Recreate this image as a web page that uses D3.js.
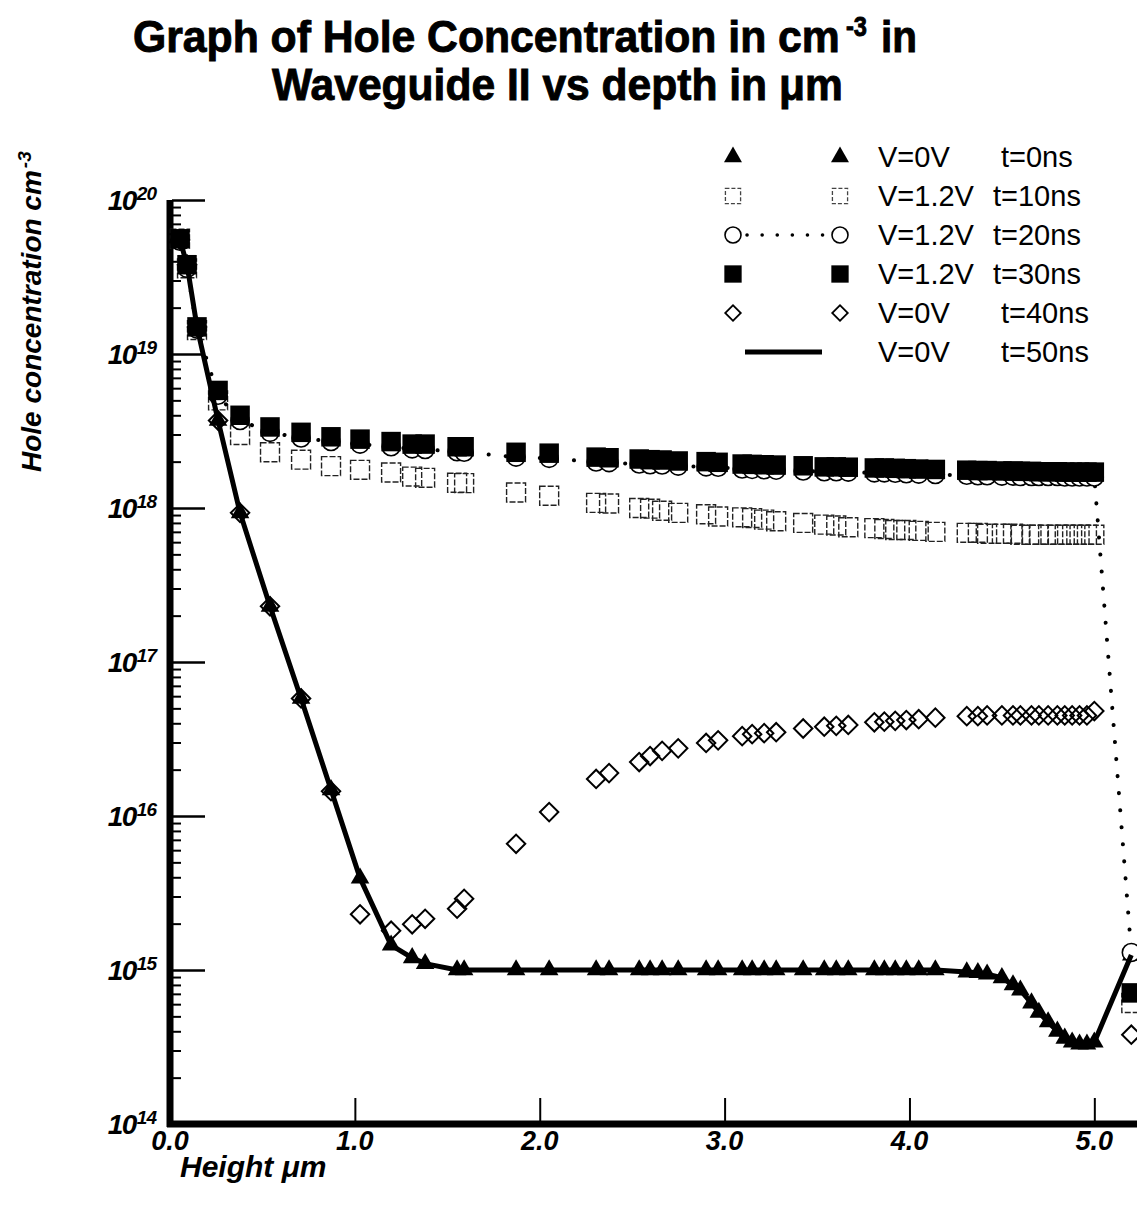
<!DOCTYPE html>
<html>
<head>
<meta charset="utf-8">
<script src="https://cdn.jsdelivr.net/npm/d3@7"></script>
<style>
  html, body { margin: 0; padding: 0; background: #fff; }
  svg { display: block; }
  text { font-family: "Liberation Sans", Arial, Helvetica, sans-serif; fill: #000; }
</style>
</head>
<body>
<svg id="chart" width="1137" height="1208"></svg>
<script>
// Mesh depths (µm) shared by all simulated profiles
const depth = [0.054, 0.092, 0.146, 0.26, 0.379, 0.541, 0.709, 0.871, 1.028, 1.196,
  1.31, 1.38, 1.553, 1.591, 1.872, 2.051, 2.305, 2.375, 2.538, 2.597,
  2.662, 2.749, 2.9, 2.965, 3.095, 3.149, 3.214, 3.279, 3.425, 3.539,
  3.604, 3.669, 3.81, 3.864, 3.923, 3.983, 4.05, 4.14, 4.31, 4.37,
  4.42, 4.5, 4.56, 4.6, 4.66, 4.7, 4.75, 4.8, 4.84, 4.88,
  4.92, 4.96, 5.0, 5.2];

// Hole concentration (cm^-3) at each mesh depth
const holesT0 = [5.5e19, 3.8e19, 1.5e19, 3.7e18, 9.3e17, 2.3e17, 5.8e16, 1.48e16, 3.95e15, 1.45e15,
  1.2e15, 1.1e15, 1.0e15, 1.0e15, 1.0e15, 1.0e15, 1.0e15, 1.0e15, 1.0e15, 1.0e15,
  1.0e15, 1.0e15, 1.0e15, 1.0e15, 1.0e15, 1.0e15, 1.0e15, 1.0e15, 1.0e15, 1.0e15,
  1.0e15, 1.0e15, 1.0e15, 1.0e15, 1.0e15, 1.0e15, 1.0e15, 1.0e15, 9.7e14, 9.6e14,
  9.4e14, 8.9e14, 8.0e14, 7.4e14, 6.1e14, 5.3e14, 4.6e14, 4.0e14, 3.6e14, 3.4e14,
  3.3e14, 3.3e14, 3.4e14, 1.25e15];

const holesT10 = [5.6e19, 3.6e19, 1.43e19, 5.0e18, 2.98e18, 2.3e18, 2.06e18, 1.87e18, 1.77e18, 1.7e18,
  1.6e18, 1.57e18, 1.46e18, 1.45e18, 1.26e18, 1.2e18, 1.08e18, 1.07e18, 1.0e18, 9.9e17,
  9.6e17, 9.3e17, 9.1e17, 8.8e17, 8.7e17, 8.6e17, 8.4e17, 8.2e17, 8.0e17, 7.8e17,
  7.7e17, 7.5e17, 7.4e17, 7.3e17, 7.2e17, 7.2e17, 7.1e17, 7.0e17, 6.9e17, 6.9e17,
  6.8e17, 6.8e17, 6.8e17, 6.7e17, 6.7e17, 6.7e17, 6.7e17, 6.7e17, 6.7e17, 6.7e17,
  6.7e17, 6.7e17, 6.7e17, 6.1e14];

const holesT20 = [5.4e19, 3.6e19, 1.45e19, 5.4e18, 3.7e18, 3.1e18, 2.85e18, 2.7e18, 2.6e18, 2.5e18,
  2.42e18, 2.4e18, 2.32e18, 2.3e18, 2.14e18, 2.1e18, 1.99e18, 1.97e18, 1.93e18, 1.91e18,
  1.9e18, 1.87e18, 1.85e18, 1.84e18, 1.79e18, 1.78e18, 1.77e18, 1.76e18, 1.74e18, 1.72e18,
  1.72e18, 1.71e18, 1.69e18, 1.69e18, 1.68e18, 1.67e18, 1.66e18, 1.65e18, 1.63e18, 1.62e18,
  1.62e18, 1.61e18, 1.61e18, 1.6e18, 1.6e18, 1.6e18, 1.6e18, 1.6e18, 1.59e18, 1.59e18,
  1.59e18, 1.59e18, 1.59e18, 1.3e15];

const holesT30 = [5.6e19, 3.8e19, 1.5e19, 5.8e18, 4.0e18, 3.36e18, 3.1e18, 2.9e18, 2.8e18, 2.7e18,
  2.6e18, 2.6e18, 2.5e18, 2.5e18, 2.3e18, 2.27e18, 2.14e18, 2.12e18, 2.08e18, 2.06e18,
  2.05e18, 2.02e18, 2.0e18, 1.98e18, 1.93e18, 1.92e18, 1.91e18, 1.9e18, 1.88e18, 1.85e18,
  1.85e18, 1.84e18, 1.82e18, 1.82e18, 1.81e18, 1.8e18, 1.79e18, 1.78e18, 1.76e18, 1.75e18,
  1.75e18, 1.74e18, 1.74e18, 1.73e18, 1.73e18, 1.72e18, 1.72e18, 1.72e18, 1.71e18, 1.71e18,
  1.71e18, 1.71e18, 1.71e18, 7.1e14];

const holesT40 = [5.5e19, 3.8e19, 1.5e19, 3.7e18, 9.3e17, 2.3e17, 5.8e16, 1.45e16, 2.3e15, 1.8e15,
  1.98e15, 2.15e15, 2.5e15, 2.9e15, 6.6e15, 1.06e16, 1.74e16, 1.9e16, 2.24e16, 2.45e16,
  2.65e16, 2.75e16, 2.98e16, 3.1e16, 3.3e16, 3.4e16, 3.45e16, 3.5e16, 3.7e16, 3.8e16,
  3.85e16, 3.9e16, 4.06e16, 4.1e16, 4.15e16, 4.2e16, 4.25e16, 4.35e16, 4.45e16, 4.45e16,
  4.5e16, 4.5e16, 4.5e16, 4.5e16, 4.5e16, 4.5e16, 4.5e16, 4.5e16, 4.5e16, 4.5e16,
  4.5e16, 4.5e16, 4.8e16, 3.8e14];

const holesT50 = [5.5e19, 3.8e19, 1.5e19, 3.7e18, 9.3e17, 2.3e17, 5.8e16, 1.48e16, 3.95e15, 1.45e15,
  1.2e15, 1.1e15, 1.0e15, 1.0e15, 1.0e15, 1.0e15, 1.0e15, 1.0e15, 1.0e15, 1.0e15,
  1.0e15, 1.0e15, 1.0e15, 1.0e15, 1.0e15, 1.0e15, 1.0e15, 1.0e15, 1.0e15, 1.0e15,
  1.0e15, 1.0e15, 1.0e15, 1.0e15, 1.0e15, 1.0e15, 1.0e15, 1.0e15, 9.7e14, 9.6e14,
  9.4e14, 8.9e14, 8.0e14, 7.4e14, 6.1e14, 5.3e14, 4.6e14, 4.0e14, 3.6e14, 3.4e14,
  3.3e14, 3.3e14, 3.4e14, 1.25e15];

// Legend entries and axis tick labels
const legendVoltage = ["V=0V", "V=1.2V", "V=1.2V", "V=1.2V", "V=0V", "V=0V"];
const legendTime = ["t=0ns", "t=10ns", "t=20ns", "t=30ns", "t=40ns", "t=50ns"];
const xTickValues = [0, 1, 2, 3, 4, 5];
const xTickLabels = ["0.0", "1.0", "2.0", "3.0", "4.0", "5.0"];
const yExponents = [14, 15, 16, 17, 18, 19, 20];

const svg = d3.select("#chart");

const x = d3.scaleLinear().domain([0, 5.22]).range([170, 1135]);
const y = d3.scaleLog().domain([1e14, 1e20]).range([1124, 200]);

// ---- Title: condensed bold pieces, squeezed horizontally to a target width ----
const title = svg.append("g").attr("font-weight", "bold")
  .attr("stroke", "#000").attr("stroke-width", 0.9);
function condensed(str, left, baseline, size, width) {
  const t = title.append("text").attr("font-size", size).text(str);
  const natural = t.node().getComputedTextLength();
  t.attr("transform", `translate(${left},${baseline}) scale(${width / natural},1)`);
  return t;
}
condensed("Graph of Hole Concentration in cm", 133, 52, 44, 707);
condensed("-3", 846, 36, 27, 21);
condensed("in", 881, 52, 44, 36);
condensed("Waveguide II vs depth in \u03bcm", 272, 100, 44, 571);

// ---- Axes ----
const axesG = svg.append("g");

// minor ticks on log axis
const minorVals = [];
for (let e = 14; e < 20; e++) for (let m = 2; m <= 9; m++) minorVals.push(m * Math.pow(10, e));
axesG.append("g").attr("transform", "translate(172,0)")
  .call(d3.axisLeft(y).tickValues(minorVals).tickSize(-9).tickFormat(""))
  .call(g => g.select(".domain").remove())
  .call(g => g.selectAll("line").attr("stroke", "#000").attr("stroke-width", 2));
// major ticks on log axis
axesG.append("g").attr("transform", "translate(172,0)")
  .call(d3.axisLeft(y).tickValues(yExponents.map(e => Math.pow(10, e))).tickSize(-33).tickFormat(""))
  .call(g => g.select(".domain").remove())
  .call(g => g.selectAll("line").attr("stroke", "#000").attr("stroke-width", 2.5));
// x ticks
axesG.append("g").attr("transform", "translate(0,1124)")
  .call(d3.axisBottom(x).tickValues(xTickValues.slice(1)).tickSize(-26).tickFormat(""))
  .call(g => g.select(".domain").remove())
  .call(g => g.selectAll("line").attr("stroke", "#000").attr("stroke-width", 2));
// heavy axis lines
axesG.append("line").attr("x1", x(0)).attr("x2", x(0)).attr("y1", y(1e20)).attr("y2", 1127)
  .attr("stroke", "#000").attr("stroke-width", 7);
axesG.append("line").attr("x1", x(0) - 3).attr("x2", 1137).attr("y1", 1124).attr("y2", 1124)
  .attr("stroke", "#000").attr("stroke-width", 7);

// y tick labels 10^n
const yl = axesG.append("g").attr("font-weight", "bold").attr("font-style", "italic");
yExponents.forEach(e => {
  const t = yl.append("text").attr("x", 156).attr("y", y(Math.pow(10, e)) + 10)
    .attr("text-anchor", "end").attr("font-size", 28);
  t.append("tspan").attr("letter-spacing", -1.5).text("10");
  t.append("tspan").attr("dy", -10).attr("dx", 1).attr("font-size", 19).attr("letter-spacing", -1).text(String(e));
});

// x tick labels
const xl = axesG.append("g").attr("font-weight", "bold").attr("font-style", "italic");
xTickValues.forEach((v, i) => {
  xl.append("text").attr("x", x(v)).attr("y", 1150).attr("text-anchor", "middle")
    .attr("font-size", 27).text(xTickLabels[i]);
});

// axis titles
xl.append("text").attr("x", 180).attr("y", 1177).attr("font-size", 30).text("Height \u03bcm");
const ylab = svg.append("text").attr("font-weight", "bold").attr("font-style", "italic")
  .attr("font-size", 28).attr("transform", "translate(41,472) rotate(-90)");
ylab.append("tspan").text("Hole concentration  cm");
ylab.append("tspan").attr("dx", 2).attr("dy", -10).attr("font-size", 19).text("-3");

// ---- Data ----
const plot = svg.append("g");
const pts = arr => depth.map((d, i) => ({ d, v: arr[i] }));

const sym = (type, size) => d3.symbol().type(type).size(size)();

// t=0ns triangles
plot.append("g").selectAll("path").data(pts(holesT0)).join("path")
  .attr("d", sym(d3.symbolTriangle, 150))
  .attr("transform", p => `translate(${x(p.d)},${y(p.v)})`)
  .attr("fill", "#000");

// t=10ns open dashed squares
plot.append("g").selectAll("path").data(pts(holesT10)).join("path")
  .attr("d", sym(d3.symbolSquare, 360))
  .attr("transform", p => `translate(${x(p.d)},${y(p.v)})`)
  .attr("fill", "none").attr("stroke", "#222").attr("stroke-width", 1.4)
  .attr("stroke-dasharray", "6 2");

// t=20ns circles joined by a dotted line
plot.append("path").datum(pts(holesT20))
  .attr("d", d3.line().x(p => x(p.d)).y(p => y(p.v)))
  .attr("fill", "none").attr("stroke", "#000").attr("stroke-width", 4)
  .attr("stroke-linecap", "round").attr("stroke-dasharray", "0.1 17");
plot.append("g").selectAll("circle").data(pts(holesT20)).join("circle")
  .attr("cx", p => x(p.d)).attr("cy", p => y(p.v)).attr("r", 9)
  .attr("fill", "#fff").attr("stroke", "#000").attr("stroke-width", 1.6);

// t=30ns filled squares
plot.append("g").selectAll("path").data(pts(holesT30)).join("path")
  .attr("d", sym(d3.symbolSquare, 380))
  .attr("transform", p => `translate(${x(p.d)},${y(p.v)})`)
  .attr("fill", "#000");

// t=40ns open diamonds
plot.append("g").selectAll("path").data(pts(holesT40)).join("path")
  .attr("d", sym(d3.symbolSquare, 170))
  .attr("transform", p => `translate(${x(p.d)},${y(p.v)}) rotate(45)`)
  .attr("fill", "none").attr("stroke", "#000").attr("stroke-width", 2);

// t=50ns solid line
plot.append("path").datum(pts(holesT50))
  .attr("d", d3.line().x(p => x(p.d)).y(p => y(p.v)))
  .attr("fill", "none").attr("stroke", "#000").attr("stroke-width", 5)
  .attr("stroke-linejoin", "round");

// ---- Legend ----
const leg = svg.append("g");
const rowY = i => 157 + i * 39;
const lx1 = 733, lx2 = 840;
const legendMarker = (i, xx) => {
  const tr = `translate(${xx},${rowY(i)})`;
  if (i === 0) leg.append("path").attr("d", sym(d3.symbolTriangle, 140)).attr("transform", tr).attr("fill", "#000");
  if (i === 1) leg.append("path").attr("d", sym(d3.symbolSquare, 230)).attr("transform", tr)
    .attr("fill", "none").attr("stroke", "#444").attr("stroke-width", 1.3).attr("stroke-dasharray", "4 2");
  if (i === 2) leg.append("circle").attr("cx", xx).attr("cy", rowY(i)).attr("r", 8)
    .attr("fill", "#fff").attr("stroke", "#000").attr("stroke-width", 1.6);
  if (i === 3) leg.append("path").attr("d", sym(d3.symbolSquare, 300)).attr("transform", tr).attr("fill", "#000");
  if (i === 4) leg.append("path").attr("d", sym(d3.symbolSquare, 120)).attr("transform", tr + " rotate(45)")
    .attr("fill", "none").attr("stroke", "#000").attr("stroke-width", 1.8);
};
legendVoltage.forEach((v, i) => {
  if (i === 2) leg.append("line").attr("x1", lx1 + 14).attr("x2", lx2 - 10)
    .attr("y1", rowY(i)).attr("y2", rowY(i)).attr("stroke", "#000").attr("stroke-width", 3.5)
    .attr("stroke-linecap", "round").attr("stroke-dasharray", "0.1 15");
  if (i === 5) leg.append("line").attr("x1", 745).attr("x2", 822)
    .attr("y1", rowY(i)).attr("y2", rowY(i)).attr("stroke", "#000").attr("stroke-width", 5);
  else { legendMarker(i, lx1); legendMarker(i, lx2); }
  leg.append("text").attr("x", 878).attr("y", rowY(i) + 10).attr("font-size", 29).text(v);
  leg.append("text").attr("x", v === "V=0V" ? 1001 : 993).attr("y", rowY(i) + 10)
    .attr("font-size", 29).text(legendTime[i]);
});
</script>
</body>
</html>
